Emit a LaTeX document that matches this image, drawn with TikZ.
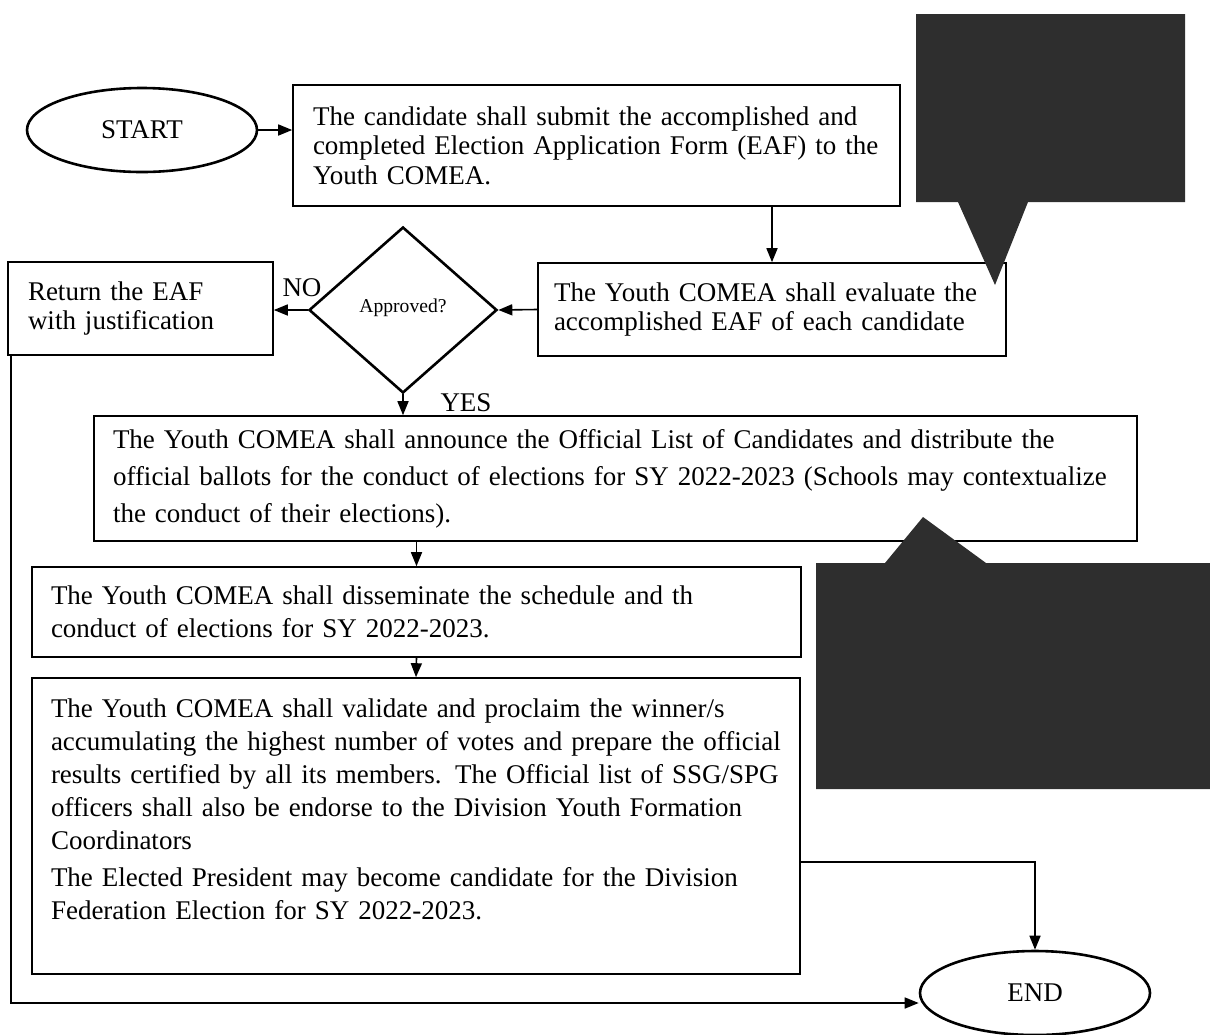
\documentclass[tikz,border=0pt]{standalone}
\usepackage{fontspec}
\setmainfont{Liberation Serif}
\usepackage{tikz}
\usetikzlibrary{positioning, shapes.geometric, arrows.meta}

\begin{document}
\begin{tikzpicture}[x=0.5pt,y=-0.5pt]
					\tikzstyle{box}=[rectangle,draw=black,line width=0.8pt,align=left,inner ysep=0pt,font=\fontsize{13.5}{14.8}\selectfont]
					\tikzstyle{term}=[ellipse,draw=black,line width=1.3pt,inner sep=0pt,minimum width=115pt,minimum height=42pt,font=\fontsize{13.5}{15}\selectfont]
					\tikzstyle{decision}=[diamond,draw=black,line width=1.3pt,inner sep=0pt,minimum width=94pt,minimum height=83pt,font=\fontsize{9.8}{11}\selectfont]
					\tikzstyle{arr}=[-{Triangle[length=7pt,width=5.5pt]},line width=0.8pt]
					\tikzstyle{lbl}=[font=\fontsize{13.5}{15}\selectfont,inner sep=0pt]
					\tikzstyle{blot}=[fill=black!82]
					\useasboundingbox (0,0) rectangle (1210,1034);
					\node[term](start) at (142,130){START};
					\node[box,text width=283.5pt,inner xsep=10pt,minimum height=60.5pt](submit) at (596.5,145.5){The candidate shall submit the accomplished and\\completed Election Application Form (EAF) to the\\Youth COMEA.};
					\node[box,text width=218pt,inner xsep=8pt,minimum height=46.5pt](evaluate) at (772,309.5){The Youth COMEA shall evaluate the\\accomplished EAF of each candidate};
					\node[decision](approved) at (403,310){\raisebox{4pt}{Approved?}};
					\node[box,text width=112.5pt,inner xsep=10pt,minimum height=46.5pt](return) at (140.5,308.5){Return the EAF\\with justification};
					\node[box,text width=502.5pt,inner xsep=9.5pt,minimum height=62.5pt,font=\fontsize{13.5}{18.5}\selectfont](announce) at (615.5,478.5){The Youth COMEA shall announce the Official List of Candidates and distribute the\\official ballots for the conduct of elections for SY 2022-2023 (Schools may contextualize\\the conduct of their elections).};
					\node[box,text width=365.5pt,inner xsep=9.5pt,minimum height=45pt,font=\fontsize{13.5}{16.5}\selectfont](disseminate) at (416.5,612){The Youth COMEA shall disseminate the schedule and th\\conduct of elections for SY 2022-2023.};
					\node[box,text width=365pt,inner xsep=9.5pt,minimum height=148pt,font=\fontsize{13.5}{16.5}\selectfont](validate) at (416,826){The Youth COMEA shall validate and proclaim the winner/s\\accumulating the highest number of votes and prepare the official\\results certified by all its members. The Official list of SSG/SPG\\officers shall also be endorse to the Division Youth Formation\\Coordinators\\[2pt]The Elected President may become candidate for the Division\\Federation Election for SY 2022-2023.\\\mbox{}};
					\node[term](finish) at (1035,993){END};
					\node[lbl](no) at (302,288){NO};
					\node[lbl](yes) at (466,403){YES};
					\path[arr]
						(start.east) edge (start.east -| submit.west)
						(evaluate.north |- submit.south) edge (evaluate.north)
						(evaluate.west) edge (approved.east)
						(approved.west) edge (approved.west -| return.east)
						(approved.south) edge (approved.south |- announce.north)
						(disseminate.north |- announce.south) edge (disseminate.north)
						(disseminate.south) edge (validate.north);
					\draw[arr] ([yshift=-18pt]validate.east) -| (finish.north);
					\draw[arr] ([xshift=2pt]return.south west) |- ([yshift=-5pt]finish.west);
					\fill[blot] (916,14) -- (1185,14) -- (1185,202) -- (1028,202) -- (995,285) -- (958,202) -- (916,202) -- cycle;
					\fill[blot] (816,563) -- (885,563) -- (923,517) -- (986,563) -- (1210,563) -- (1210,789) -- (816,789) -- cycle;
				\end{tikzpicture}
\end{document}
